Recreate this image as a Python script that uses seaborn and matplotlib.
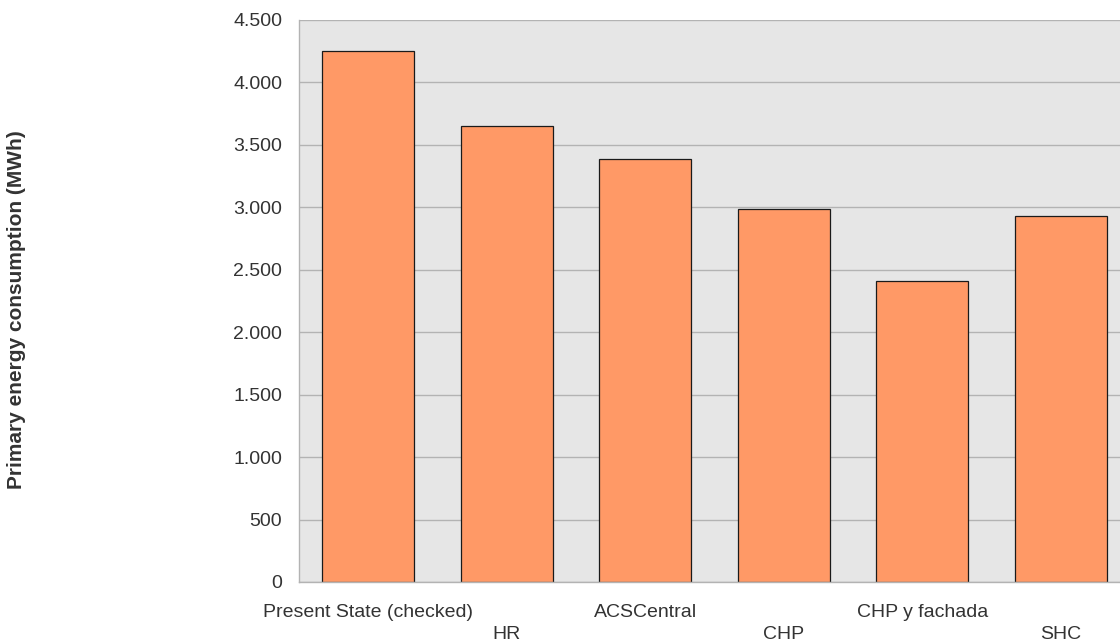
import seaborn as sns
import pandas as pd
import matplotlib.pyplot as plt
from matplotlib.ticker import FuncFormatter, FixedLocator

# values (MWh)
scenarios = ["Present State (checked)", "HR", "ACSCentral", "CHP", "CHP y fachada", "SHC"]
consumption = [4255, 3650, 3385, 2985, 2410, 2930]

df = pd.DataFrame({"Scenario": scenarios, "Consumption": consumption})

sns.set_style("white")
plt.rcParams["font.family"] = ["Liberation Sans", "DejaVu Sans"]

fig = plt.figure(figsize=(11.2, 6.43), dpi=100)
# plot area runs past the right edge of the picture, as in the original
ax = fig.add_axes([299 / 1120, 61 / 643, 831 / 1120, 562 / 643])
ax.set_facecolor("#e6e6e6")

sns.barplot(data=df, x="Scenario", y="Consumption", color="#ff9966",
            saturation=1, width=0.665, edgecolor="#1a1a1a", linewidth=0.9, ax=ax)

ax.set_xlim(-0.5, 5.5)
ax.set_ylim(0, 4500)
ax.set_yticks(range(0, 4501, 500))
ax.yaxis.set_major_formatter(FuncFormatter(lambda v, p: f"{int(v):,}".replace(",", ".")))
ax.grid(axis="y", color="#b3b3b3", linewidth=1)
ax.set_axisbelow(True)

for s in ["top", "right"]:
    ax.spines[s].set_visible(False)
for s in ["left", "bottom"]:
    ax.spines[s].set_color("#b3b3b3")
    ax.spines[s].set_linewidth(1)

# ticks on the category boundaries, labels staggered
ax.xaxis.set_minor_locator(FixedLocator([i - 0.5 for i in range(len(scenarios) + 1)]))
ax.tick_params(axis="x", which="minor", length=8, color="#b3b3b3", width=1)
ax.tick_params(axis="x", which="major", length=0, labelsize=14, labelcolor="#333333")
ax.tick_params(axis="y", length=8, color="#b3b3b3", width=1, labelsize=14,
               labelcolor="#333333", pad=4)
for i, t in enumerate(ax.xaxis.get_major_ticks()):
    t.set_pad(15.5 if i % 2 == 0 else 32)

ax.set_xlabel(None)
ax.set_ylabel(None)
fig.text(17 / 1120, 1 - 310 / 643, "Primary energy consumption (MWh)", rotation=90,
         ha="center", va="center", fontsize=15, fontweight="bold", color="#333333")

plt.savefig("out.png", dpi=100)
